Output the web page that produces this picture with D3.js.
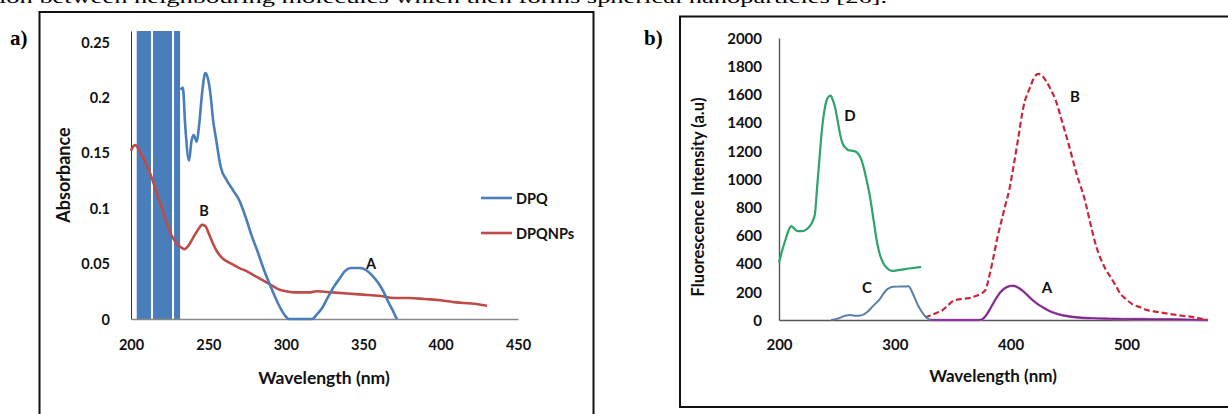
<!DOCTYPE html>
<html>
<head>
<meta charset="utf-8">
<script src="https://cdn.jsdelivr.net/npm/d3@7"></script>
<style>
  html, body { margin: 0; padding: 0; background: #fff; }
  svg { display: block; }
  .lbl { font-family: Lato, "Open Sans", sans-serif; font-weight: 700; fill: #111; }
</style>
</head>
<body>
<script>
// ---------- DATA: panel a (absorbance) ----------
const aXTicks = [200, 250, 300, 350, 400, 450];
const aYTicks = [0, 0.05, 0.1, 0.15, 0.2, 0.25];
const aYTickLabels = ["0", "0.05", "0.1", "0.15", "0.2", "0.25"];
// DPQ saturated (off-scale) region drawn as filled bands [from nm, to nm]
const dpqSaturated = [[203.7, 212.9], [214.2, 226.5], [227.8, 231.7]];
const dpqWl = [232, 233.5, 235, 237.5, 239, 240.5, 242.5, 244, 246, 248, 249.5, 251.5, 253, 255, 258, 262, 266, 270, 272, 275, 278, 282, 286, 290, 295, 299, 302, 317, 320, 323, 327, 331, 335, 338, 342, 348, 352, 356, 360, 363, 366, 369, 371, 372];
const dpqAbs = [0.207, 0.209, 0.175, 0.143, 0.16, 0.166, 0.16, 0.175, 0.205, 0.222, 0.218, 0.201, 0.18, 0.162, 0.137, 0.125, 0.116, 0.107, 0.1, 0.088, 0.075, 0.06, 0.044, 0.03, 0.014, 0.004, 0.0, 0.0, 0.004, 0.009, 0.019, 0.029, 0.037, 0.043, 0.046, 0.046, 0.044, 0.039, 0.032, 0.025, 0.016, 0.008, 0.002, 0];
const npWl = [200, 201.5, 203, 205, 208, 211, 214, 217, 220, 223, 226, 229, 232, 234.5, 237, 240, 243, 246, 248, 250, 253, 256, 259, 262, 266, 270, 275, 280, 285, 290, 295, 300, 305, 310, 315, 320, 330, 340, 350, 360, 370, 380, 390, 400, 410, 420, 430];
const npAbs = [0.152, 0.156, 0.157, 0.153, 0.145, 0.136, 0.125, 0.112, 0.1, 0.087, 0.076, 0.069, 0.065, 0.063, 0.066, 0.073, 0.08, 0.085, 0.084, 0.078, 0.068, 0.06, 0.055, 0.052, 0.049, 0.046, 0.043, 0.039, 0.035, 0.031, 0.027, 0.025, 0.024, 0.024, 0.024, 0.025, 0.024, 0.023, 0.022, 0.021, 0.019, 0.019, 0.018, 0.017, 0.015, 0.014, 0.012];

// ---------- DATA: panel b (fluorescence) ----------
const bXTicks = [200, 300, 400, 500];
const bYTicks = [0, 200, 400, 600, 800, 1000, 1200, 1400, 1600, 1800, 2000];
const dWl = [200, 203, 206, 208.5, 210.7, 213, 216, 220, 224, 227, 229, 231, 233, 235, 237, 239.5, 241, 243, 244.6, 246.5, 248.4, 250.5, 252.7, 255, 257, 261, 264, 267, 269.5, 271.4, 273.5, 275.7, 278, 280, 282, 284, 287, 290, 293, 297.4, 304, 314, 322.7];
const dInt = [407, 500, 580, 640, 666, 650, 630, 630, 645, 670, 700, 750, 950, 1150, 1343, 1500, 1556, 1585, 1591, 1560, 1509, 1420, 1320, 1250, 1225, 1202, 1200, 1190, 1165, 1131, 1070, 989, 900, 800, 690, 580, 466, 405, 370, 348, 355, 367, 376];
const cWl = [245, 250, 253.5, 257, 262, 266, 269, 273.6, 277, 280, 283.5, 287, 290, 293.6, 296, 298.6, 304, 310, 312, 314, 317, 320, 322.7, 325, 327.8, 331];
const cInt = [0, 8, 19, 30, 35, 30, 30, 42, 62, 89, 118, 148, 185, 219, 230, 235, 237, 238, 240, 215, 160, 105, 66, 38, 14, 0];
const bWl = [326, 330, 336, 340.5, 346, 350.5, 357, 364, 370.6, 375, 378, 382, 386, 389, 392, 395, 399, 402.4, 406.7, 411, 416.8, 420, 424, 427.5, 431.3, 435, 438.5, 444.2, 450, 457, 464.2, 469, 474, 478, 482, 486.6, 491, 495, 500, 505, 512, 518, 526, 538, 548, 555, 563, 570];
const bInt = [19, 30, 50, 66, 105, 136, 148, 155, 172, 190, 210, 325, 480, 600, 700, 800, 930, 1084, 1296, 1509, 1650, 1715, 1745, 1730, 1686, 1630, 1568, 1414, 1249, 1036, 848, 680, 520, 430, 360, 301, 240, 184, 145, 113, 90, 70, 58, 42, 30, 24, 12, 2];
const aWl = [330, 370, 374.6, 377, 379.6, 382, 384.6, 388, 391, 395, 398, 401, 403, 406, 409.7, 414, 418, 423, 428, 433, 438, 445, 451.5, 460, 471.6, 485, 498, 515, 532, 550, 570];
const aInt = [0, 0, 2, 15, 42, 75, 113, 160, 195, 225, 238, 243, 242, 232, 212, 180, 148, 115, 89, 66, 49, 33, 24, 17, 12, 9, 7, 6, 5, 3, 0];

const W = 1228, H = 414;
const svg = d3.select("body").append("svg").attr("width", W).attr("height", H);

// cut-off body text line at the top (only its lower part is visible, as in the source)
svg.append("text")
  .attr("x", -1).attr("y", 3)
  .attr("textLength", 888).attr("lengthAdjust", "spacingAndGlyphs")
  .style("font-family", "'Liberation Serif', 'DejaVu Serif', serif")
  .style("font-size", "17px").style("fill", "#000")
  .text("ion between neighbouring molecules which then forms spherical nanoparticles [26].");

// panel frames
svg.append("rect").attr("x", 39.5).attr("y", 12).attr("width", 554).attr("height", 420)
  .attr("fill", "none").attr("stroke", "#111").attr("stroke-width", 2);
svg.append("rect").attr("x", 680).attr("y", 16.5).attr("width", 600).attr("height", 390.5)
  .attr("fill", "none").attr("stroke", "#111").attr("stroke-width", 2);

// panel letters
const serif = "'Liberation Serif', 'DejaVu Serif', serif";
svg.append("text").attr("x", 10).attr("y", 45).text("a)")
  .style("font-family", serif).style("font-weight", 700).style("font-size", "21px");
svg.append("text").attr("x", 644).attr("y", 45).text("b)")
  .style("font-family", serif).style("font-weight", 700).style("font-size", "21px");

// ================= Panel a =================
const xa = d3.scaleLinear().domain([200, 450]).range([131, 518]);
const ya = d3.scaleLinear().domain([0, 0.26]).range([319, 31]);
const ga = svg.append("g");

// saturated DPQ bands
ga.selectAll("rect.sat").data(dpqSaturated).join("rect")
  .attr("class", "sat")
  .attr("x", d => xa(d[0])).attr("width", d => xa(d[1]) - xa(d[0]))
  .attr("y", ya(0.26)).attr("height", ya(0) - ya(0.26))
  .attr("fill", "#4a7ebb");

// axes
const axAY = d3.axisLeft(ya).tickValues(aYTicks).tickSize(0).tickPadding(21)
  .tickFormat((d, i) => aYTickLabels[i]);
const gAY = ga.append("g").attr("transform", `translate(${xa(200)},0)`).call(axAY);
gAY.select(".domain").attr("stroke", "#333").attr("stroke-width", 1);
gAY.selectAll("text").attr("class", "lbl").style("font-size", "14.5px").attr("dy", "0.35em");

const axAX = d3.axisBottom(xa).tickValues(aXTicks).tickSize(0).tickPadding(21);
const gAX = ga.append("g").attr("transform", `translate(0,${ya(0)})`).call(axAX);
gAX.select(".domain").attr("stroke", "#888").attr("stroke-width", 1.6);
gAX.selectAll("text").attr("class", "lbl").style("font-size", "14.5px");

const lineA = d3.line().x(d => xa(d[0])).y(d => ya(d[1])).curve(d3.curveMonotoneX);
ga.append("path").datum(d3.zip(npWl, npAbs))
  .attr("d", lineA).attr("fill", "none").attr("stroke", "#be4b48").attr("stroke-width", 2.6);
ga.append("path").datum(d3.zip(dpqWl, dpqAbs))
  .attr("d", lineA).attr("fill", "none").attr("stroke", "#4a7ebb").attr("stroke-width", 2.6);

// labels
ga.append("text").attr("class", "lbl").attr("x", 204).attr("y", 210).attr("text-anchor", "middle")
  .attr("dominant-baseline", "central").style("font-size", "14.5px").text("B");
ga.append("text").attr("class", "lbl").attr("x", 371).attr("y", 263).attr("text-anchor", "middle")
  .attr("dominant-baseline", "central").style("font-size", "14.5px").text("A");

// axis titles
ga.append("text").attr("class", "lbl").attr("x", 324).attr("y", 377).attr("text-anchor", "middle")
  .attr("dominant-baseline", "central").style("font-size", "17.5px").text("Wavelength (nm)");
ga.append("text").attr("class", "lbl").attr("transform", "translate(63,175) rotate(-90)")
  .attr("text-anchor", "middle").attr("dominant-baseline", "central").style("font-size", "18px")
  .text("Absorbance");

// legend
const legA = [{name: "DPQ", color: "#4a7ebb", y: 198}, {name: "DPQNPs", color: "#be4b48", y: 233}];
legA.forEach(l => {
  ga.append("line").attr("x1", 481).attr("x2", 512).attr("y1", l.y).attr("y2", l.y)
    .attr("stroke", l.color).attr("stroke-width", 2.6);
  ga.append("text").attr("class", "lbl").attr("x", 516).attr("y", l.y)
    .attr("dominant-baseline", "central").style("font-size", "14.5px").text(l.name);
});

// ================= Panel b =================
const xb = d3.scaleLinear().domain([200, 570]).range([779, 1207.5]);
const yb = d3.scaleLinear().domain([0, 2000]).range([320, 38]);
const gb = svg.append("g");

const axBY = d3.axisLeft(yb).tickValues(bYTicks).tickSize(0).tickPadding(17).tickFormat(d3.format("d"));
const gBY = gb.append("g").attr("transform", `translate(${xb(200)},0)`).call(axBY);
gBY.select(".domain").attr("stroke", "#555").attr("stroke-width", 1.4);
gBY.selectAll("text").attr("class", "lbl").style("font-size", "15px").attr("dy", "0.35em");

const axBX = d3.axisBottom(xb).tickValues(bXTicks).tickSize(0).tickPadding(19).tickFormat(d3.format("d"));
const gBX = gb.append("g").attr("transform", `translate(0,${yb(0)})`).call(axBX);
gBX.select(".domain").attr("stroke", "#555").attr("stroke-width", 1.6);
gBX.selectAll("text").attr("class", "lbl").style("font-size", "15px");

const lineB = d3.line().x(d => xb(d[0])).y(d => yb(d[1])).curve(d3.curveMonotoneX);
gb.append("path").datum(d3.zip(aWl, aInt)).attr("d", lineB).attr("fill", "none")
  .attr("stroke", "#d76ad4").attr("stroke-width", 2.6);
gb.append("path").datum(d3.zip(aWl, aInt)).attr("d", lineB).attr("fill", "none")
  .attr("stroke", "#6e2f80").attr("stroke-width", 1.6);
gb.append("path").datum(d3.zip(bWl, bInt)).attr("d", lineB).attr("fill", "none")
  .attr("stroke", "#c8283a").attr("stroke-width", 2.2).attr("stroke-dasharray", "6,3");
gb.append("path").datum(d3.zip(cWl, cInt)).attr("d", lineB).attr("fill", "none")
  .attr("stroke", "#5b7fa6").attr("stroke-width", 2);
gb.append("path").datum(d3.zip(dWl, dInt)).attr("d", lineB).attr("fill", "none")
  .attr("stroke", "#2ea36b").attr("stroke-width", 2.2);

const bLabels = [{t: "D", x: 850, y: 115}, {t: "C", x: 867, y: 287}, {t: "A", x: 1047, y: 287}, {t: "B", x: 1075, y: 96}];
bLabels.forEach(l => {
  gb.append("text").attr("class", "lbl").attr("x", l.x).attr("y", l.y).attr("text-anchor", "middle")
    .attr("dominant-baseline", "central").style("font-size", "15px").text(l.t);
});

gb.append("text").attr("class", "lbl").attr("x", 993).attr("y", 375).attr("text-anchor", "middle")
  .attr("dominant-baseline", "central").style("font-size", "17px").text("Wavelength (nm)");
gb.append("text").attr("class", "lbl").attr("transform", "translate(698,197) rotate(-90)")
  .attr("text-anchor", "middle").attr("dominant-baseline", "central").style("font-size", "16.5px")
  .text("Fluorescence Intensity (a.u)");
</script>
</body>
</html>
